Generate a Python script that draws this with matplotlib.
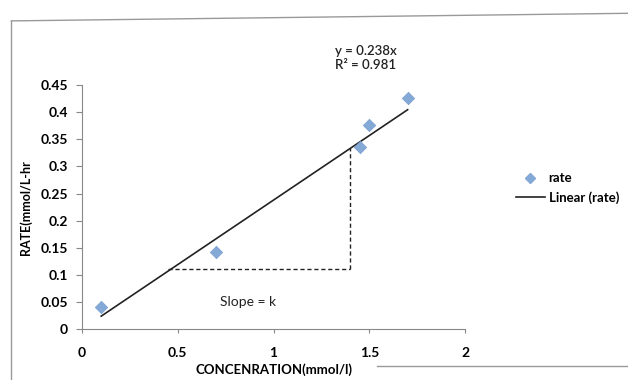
import matplotlib.pyplot as plt
from matplotlib.lines import Line2D

plt.rcParams['font.family'] = ['Lato', 'DejaVu Sans']

# data
conc = [0.1, 0.7, 1.45, 1.5, 1.7]
rate = [0.04, 0.142, 0.336, 0.376, 0.426]
slope = 0.238
fit_x = [0.1, 1.7]
# dashed construction lines for the slope
run_x = [0.45, 1.4]
run_y = 0.11

yticks = [0, 0.05, 0.1, 0.15, 0.2, 0.25, 0.3, 0.35, 0.4, 0.45]
ytick_labels = ['0', '0.05', '0.1', '0.15', '0.2', '0.25', '0.3', '0.35', '0.4', '0.45']
xticks = [0, 0.5, 1, 1.5, 2]
xtick_labels = ['0', '0.5', '1', '1.5', '2']

fig = plt.figure(figsize=(6.28, 3.8), dpi=100)
ax = fig.add_axes([0.1306, 0.134, 0.610, 0.642])

ax.scatter(conc, rate, marker='D', s=40, color='#85a9d6', edgecolors='#7a9fce',
           linewidths=0.5, zorder=3, label='rate')
ax.plot(fit_x, [slope * v for v in fit_x], color='#222222', lw=1.2, label='Linear (rate)')

ax.plot(run_x, [run_y, run_y], color='#222222', lw=1.0, ls=(0, (3, 2)))
ax.plot([run_x[1], run_x[1]], [run_y, slope * run_x[1]], color='#222222', lw=1.0,
        ls=(0, (3, 2)))

ax.text(0.72, 0.05, 'Slope = k', fontsize=10, color='#222222', va='center')
ax.text(1.32, 0.476, 'y = 0.238x\nR² = 0.981', fontsize=9.5, color='#222222',
        fontweight='semibold', va='bottom', linespacing=1.2, clip_on=False)

ax.set_xlim(0, 2)
ax.set_ylim(0, 0.45)
ax.set_yticks(yticks)
ax.set_yticklabels(ytick_labels, fontsize=10, fontweight='bold')
ax.set_xticks(xticks)
ax.set_xticklabels(xtick_labels, fontsize=10, fontweight='bold')
ax.tick_params(axis='y', length=4, color='#888888', pad=6)
ax.tick_params(axis='x', length=3, color='#888888', pad=10)
for s in ['top', 'right']:
    ax.spines[s].set_visible(False)
for s in ['left', 'bottom']:
    ax.spines[s].set_color('#888888')

ax.set_ylabel('RATE(mmol/L-hr', fontsize=9, fontweight='bold', labelpad=6)
ax.set_xlabel('CONCENRATION(mmol/l)', fontsize=9.5, fontweight='bold', labelpad=3)

handles = [
    Line2D([], [], marker='D', ls='none', color='#85a9d6', markersize=5),
    Line2D([], [], color='#222222', lw=1.2),
]
fig.legend(handles, ['rate', 'Linear (rate)'], loc='center left',
           bbox_to_anchor=(0.802, 0.505), frameon=False,
           handlelength=2.2, handletextpad=0.3, labelspacing=0.5,
           prop={'weight': 'bold', 'size': 9.5})

# outer chart border as in the scan
fig.add_artist(Line2D([0.018, 0.018], [0.0, 0.945], color='#999999', lw=1))
fig.add_artist(Line2D([0.018, 1.0], [0.945, 0.965], color='#999999', lw=1))
fig.add_artist(Line2D([0.6, 1.0], [0.037, 0.037], color='#999999', lw=1))

fig.savefig('out.png', dpi=100)
